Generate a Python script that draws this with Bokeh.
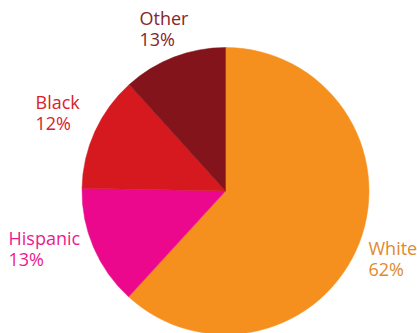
import math
from bokeh.plotting import figure
from bokeh.models import ColumnDataSource, Range1d
from bokeh.core.properties import value
from bokeh.embed import file_html
from bokeh.resources import INLINE

# data
categories = ["White", "Hispanic", "Black", "Other"]
shares = [61.8, 13.5, 13.0, 11.7]
pct_labels = ["62%", "13%", "12%", "13%"]
slice_colors = ["#F5901F", "#EC088C", "#D6191F", "#84141C"]
label_colors = ["#E08A2E", "#EC1A8C", "#D9222A", "#86252B"]

# layout (pixel coords, y measured from top)
W, H = 417, 333
cx, cy, r = 225, 190.5, 143.5
label_xy = {"White": (368, 247), "Hispanic": (8, 237), "Black": (35, 101), "Other": (139, 17)}
line_gap = 21.5

total = sum(shares)
starts, ends = [], []
acc = 0
for s in shares:
    starts.append(math.pi / 2 - 2 * math.pi * acc / total)
    acc += s
    ends.append(math.pi / 2 - 2 * math.pi * acc / total)

src = ColumnDataSource(dict(cat=categories, start=starts, end=ends, color=slice_colors))

p = figure(width=W, height=H, x_range=Range1d(0, W), y_range=Range1d(0, H),
           output_backend="svg", toolbar_location=None, min_border=0)
p.axis.visible = False
p.grid.visible = False
p.outline_line_color = None
p.background_fill_color = "white"

p.wedge(x=cx, y=H - cy, radius=r, start_angle="start", end_angle="end",
        direction="clock", fill_color="color", line_color="color", line_width=0.5,
        source=src)

lab = ColumnDataSource(dict(
    x=[label_xy[c][0] for c in categories],
    y1=[H - label_xy[c][1] for c in categories],
    y2=[H - label_xy[c][1] - line_gap for c in categories],
    name=categories,
    pct=pct_labels,
    color=label_colors,
))
for col, ycol in (("name", "y1"), ("pct", "y2")):
    p.text(x="x", y=ycol, text=col, source=lab, text_color="color",
           text_font=value("Open Sans"), text_font_size="18px",
           text_align="left", text_baseline="alphabetic")

open("out.html", "w").write(file_html(p, INLINE))
